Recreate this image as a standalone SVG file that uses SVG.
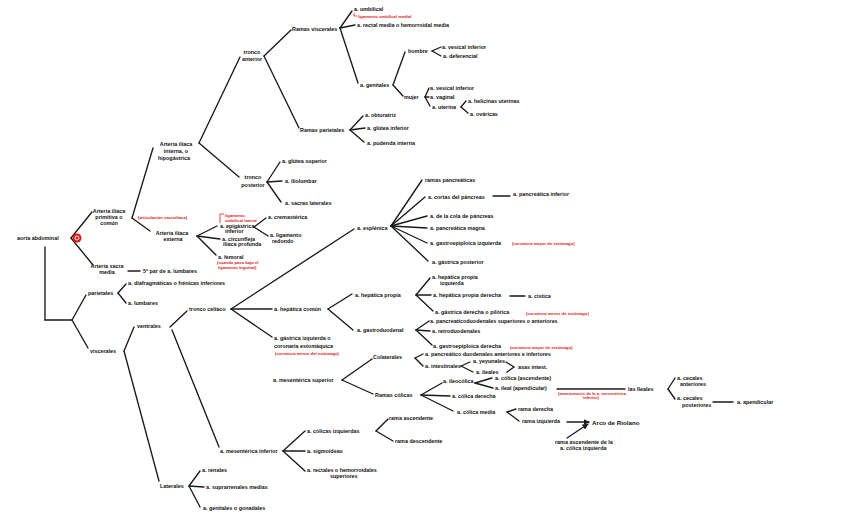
<svg xmlns="http://www.w3.org/2000/svg" width="848" height="530" viewBox="0 0 848 530">
<defs>
<style>
text{font-family:"Liberation Sans",Arial,sans-serif;font-size:5.4px;font-weight:bold;fill:#111;dominant-baseline:central}
text.m{text-anchor:middle}
text.r{fill:#e01818;font-size:4.2px}
text.big{font-size:6.2px}
.c line,.c polyline,.c path{stroke:#1a1a1a;stroke-width:1.35;stroke-linecap:round;fill:none}
.rb{stroke:#e01818;stroke-width:0.8;fill:none}
</style>
<marker id="ah" viewBox="0 0 10 10" refX="9" refY="5" markerWidth="4.5" markerHeight="4.5" orient="auto">
<path d="M0,0 L10,5 L0,10 z" fill="#1a1a1a"/>
</marker>
</defs>
<rect width="848" height="530" fill="#fff"/>

<g class="c" id="connectors">
<line x1="71" y1="238" x2="92" y2="212"/>
<line x1="71" y1="238" x2="93" y2="265"/>
<line x1="45" y1="247" x2="45" y2="320"/>
<line x1="45" y1="320" x2="72" y2="320"/>
<line x1="72" y1="320" x2="86" y2="295"/>
<line x1="72" y1="320" x2="88" y2="348"/>
<line x1="132" y1="218" x2="153" y2="148"/>
<line x1="132" y1="218" x2="150" y2="231"/>
<line x1="128" y1="271" x2="140" y2="271"/>
<line x1="199" y1="143" x2="240" y2="57"/>
<line x1="199" y1="143" x2="239" y2="177"/>
<line x1="267" y1="182" x2="280" y2="162"/>
<line x1="267" y1="182" x2="282" y2="181"/>
<line x1="267" y1="182" x2="281" y2="202"/>
<line x1="264" y1="56" x2="291" y2="30"/>
<line x1="264" y1="56" x2="299" y2="128"/>
<line x1="340" y1="28" x2="352" y2="11"/>
<line x1="340" y1="28" x2="355" y2="25"/>
<line x1="340" y1="28" x2="358" y2="83"/>
<line x1="393" y1="85" x2="405" y2="52"/>
<line x1="393" y1="85" x2="403" y2="96"/>
<line x1="432" y1="51" x2="441" y2="47"/>
<line x1="432" y1="51" x2="441" y2="56"/>
<line x1="425" y1="97" x2="429" y2="88"/>
<line x1="425" y1="97" x2="429" y2="97"/>
<line x1="425" y1="97" x2="430" y2="106"/>
<line x1="461" y1="107" x2="466" y2="101"/>
<line x1="461" y1="107" x2="468" y2="113"/>
<line x1="350" y1="130" x2="363" y2="116"/>
<line x1="350" y1="130" x2="365" y2="128"/>
<line x1="350" y1="130" x2="364" y2="142"/>
<line x1="197" y1="236" x2="217" y2="226"/>
<line x1="197" y1="236" x2="220" y2="239"/>
<line x1="197" y1="236" x2="216" y2="255"/>
<line x1="254" y1="227" x2="266" y2="218"/>
<line x1="254" y1="227" x2="268" y2="236"/>
<line x1="118" y1="293" x2="126" y2="284"/>
<line x1="118" y1="293" x2="126" y2="303"/>
<line x1="124" y1="351" x2="134" y2="327"/>
<line x1="124" y1="351" x2="159" y2="481"/>
<line x1="170" y1="327" x2="187" y2="311"/>
<line x1="172" y1="330" x2="219" y2="447"/>
<line x1="189" y1="486" x2="200" y2="471"/>
<line x1="189" y1="486" x2="204" y2="487"/>
<line x1="189" y1="486" x2="200" y2="507"/>
<line x1="231" y1="309" x2="354" y2="229"/>
<line x1="231" y1="309" x2="272" y2="309"/>
<line x1="231" y1="309" x2="272" y2="337"/>
<line x1="391" y1="226" x2="422" y2="180"/>
<line x1="391" y1="226" x2="425" y2="197"/>
<line x1="391" y1="226" x2="427" y2="216"/>
<line x1="391" y1="226" x2="427" y2="228"/>
<line x1="391" y1="226" x2="427" y2="243"/>
<line x1="391" y1="226" x2="428" y2="261"/>
<line x1="493" y1="196" x2="510" y2="196"/>
<line x1="328" y1="309" x2="352" y2="294"/>
<line x1="328" y1="309" x2="353" y2="330"/>
<line x1="416" y1="295" x2="430" y2="278"/>
<line x1="416" y1="295" x2="431" y2="295"/>
<line x1="416" y1="295" x2="433" y2="311"/>
<line x1="510" y1="296" x2="525" y2="296"/>
<line x1="416" y1="330" x2="429" y2="321"/>
<line x1="416" y1="330" x2="430" y2="331"/>
<line x1="416" y1="330" x2="432" y2="345"/>
<line x1="342" y1="380" x2="372" y2="359"/>
<line x1="342" y1="380" x2="373" y2="394"/>
<line x1="415" y1="358" x2="423" y2="354"/>
<line x1="415" y1="358" x2="423" y2="366"/>
<line x1="461" y1="366" x2="470" y2="362"/>
<line x1="461" y1="366" x2="473" y2="372"/>
<polyline points="506,362 514,367 507,372"/>
<line x1="421" y1="395" x2="442" y2="383"/>
<line x1="421" y1="395" x2="450" y2="396"/>
<line x1="421" y1="395" x2="453" y2="411"/>
<line x1="475" y1="383" x2="492" y2="378"/>
<line x1="475" y1="383" x2="493" y2="388"/>
<line x1="557" y1="389" x2="625" y2="389"/>
<line x1="668" y1="389" x2="675" y2="378"/>
<line x1="668" y1="389" x2="675" y2="399"/>
<line x1="713" y1="402" x2="733" y2="402"/>
<line x1="507" y1="412" x2="516" y2="409"/>
<line x1="507" y1="412" x2="519" y2="421"/>
<line x1="567" y1="422" x2="589" y2="422" marker-end="url(#ah)"/>
<line x1="567" y1="438" x2="588" y2="424" marker-end="url(#ah)"/>
<line x1="283" y1="451" x2="305" y2="431"/>
<line x1="283" y1="451" x2="305" y2="451"/>
<line x1="283" y1="451" x2="305" y2="471"/>
<line x1="376" y1="431" x2="388" y2="419"/>
<line x1="376" y1="431" x2="393" y2="441"/>
</g>

<g id="n_aorta"><text x="17" y="238">aorta abdominal</text>
<circle cx="77" cy="238" r="4.5" fill="#e01818"/><circle cx="77" cy="238" r="2" fill="none" stroke="#fff" stroke-width="0.9"/></g>
<g id="n_primitiva"><text class="m" x="109" y="211">Arteria ilíaca</text><text class="m" x="109" y="217">primitiva o</text><text class="m" x="109" y="223">común</text></g>
<g id="n_sacra"><text class="m" x="107" y="266">Arteria sacra</text><text class="m" x="107" y="272">media</text></g>
<g id="n_lumbar5"><text x="143" y="271">5º par de a. lumbares</text></g>
<g id="n_sacroiliaca"><text class="r" x="138" y="217">(articulación sacroilíaca)</text></g>
<g id="n_interna"><text class="m" x="176" y="144">Arteria ilíaca</text><text class="m" x="176" y="151">interna, o</text><text class="m" x="174" y="158">hipogástrica</text></g>
<g id="n_externa"><text class="m" x="172" y="233">Arteria ilíaca</text><text class="m" x="173" y="239">externa</text></g>
<g id="n_tronco_ant"><text class="m" x="252" y="52">tronco</text><text class="m" x="252" y="59">anterior</text></g>
<g id="n_tronco_post"><text class="m" x="253" y="177">tronco</text><text class="m" x="253" y="185">posterior</text></g>
<g id="n_glutsup"><text x="282" y="161">a. glútea superior</text></g>
<g id="n_iliolumbar"><text x="285" y="181">a. iliolumbar</text></g>
<g id="n_sacraslat"><text x="285" y="203">a. sacras laterales</text></g>
<g id="n_ramvisc"><text x="292" y="29">Ramas viscerales</text></g>
<g id="n_ramparie"><text x="300" y="130">Ramas parietales</text></g>
<g id="n_umbilical"><text x="354" y="9">a. umbilical</text><path class="rb" d="M354,13 L354,16 L357,16"/><text class="r" x="358" y="16">ligamento umbilical medial</text></g>
<g id="n_rectalmedia"><text x="357" y="25">a. rectal media o hemorroidal media</text></g>
<g id="n_genitales"><text x="360" y="85">a. genitales</text></g>
<g id="n_hombre"><text x="408" y="51">hombre</text></g>
<g id="n_vesinf"><text x="442" y="47">a. vesical inferior</text></g>
<g id="n_deferencial"><text x="443" y="56">a. deferencial</text></g>
<g id="n_mujer"><text x="404" y="97">mujer</text></g>
<g id="n_vesinf2"><text x="430" y="88">a. vesical inferior</text></g>
<g id="n_vaginal"><text x="430" y="97">a. vaginal</text></g>
<g id="n_uterina"><text x="432" y="107">a. uterina</text></g>
<g id="n_helicinas"><text x="468" y="101">a. helicinas uterinas</text></g>
<g id="n_ovaricas"><text x="470" y="114">a. ováricas</text></g>
<g id="n_obturatriz"><text x="365" y="115">a. obturatriz</text></g>
<g id="n_glutinf"><text x="367" y="128">a. glútea inferior</text></g>
<g id="n_pudenda"><text x="367" y="143">a. pudenda interna</text></g>
<g id="n_epigastrica"><path class="rb" d="M220,223 L220,214 L224,214"/><text class="r" x="225" y="215">ligamento</text><text class="r" x="225" y="220">umbilical lateral</text>
<text x="220" y="226">a. epigástrica</text><text x="225" y="231">inferior</text></g>
<g id="n_circunfleja"><text x="222" y="239">a. circunfleja</text><text x="223" y="244">ilíaca profunda</text></g>
<g id="n_femoral"><text x="218" y="257">a. femoral</text><text class="r" x="217" y="262">(cuando pasa bajo el</text><text class="r" x="218" y="267">ligamento inguinal)</text></g>
<g id="n_cremasterica"><text x="268" y="217">a. cremastérica</text></g>
<g id="n_ligredondo"><text x="270" y="235">a. ligamento</text><text x="272" y="241">redondo</text></g>

<g id="n_parietales"><text x="88" y="293">parietales</text></g>
<g id="n_diafrag"><text x="128" y="283">a. diafragmáticas o frénicas inferiores</text></g>
<g id="n_lumbares"><text x="128" y="303">a. lumbares</text></g>
<g id="n_viscerales"><text x="90" y="351">viscerales</text></g>
<g id="n_ventrales"><text x="137" y="326">ventrales</text></g>
<g id="n_laterales"><text x="160" y="486">Laterales</text></g>
<g id="n_renales"><text x="202" y="470">a. renales</text></g>
<g id="n_suprarrenales"><text x="206" y="487">a. suprarrenales medias</text></g>
<g id="n_gonadales"><text x="203" y="508">a. genitales o gonadales</text></g>
<g id="n_celiaco"><text x="189" y="309">tronco celíaco</text></g>
<g id="n_esplenica"><text x="357" y="228">a. esplénica</text></g>
<g id="n_rampanc"><text x="425" y="180">ramas pancreáticas</text></g>
<g id="n_cortas"><text x="428" y="197">a. cortas del páncreas</text></g>
<g id="n_pancinf"><text x="513" y="194">a. pancreática inferior</text></g>
<g id="n_cola"><text x="430" y="216">a. de la cola de páncreas</text></g>
<g id="n_magna"><text x="430" y="228">a. pancreática magna</text></g>
<g id="n_gastroepiizq"><text x="430" y="243">a. gastroepiploica izquierda</text><text class="r" x="512" y="243">(curvatura mayor de estómago)</text></g>
<g id="n_gastpost"><text x="432" y="262">a. gástrica posterior</text></g>
<g id="n_hepcomun"><text x="274" y="309">a. hepática común</text></g>
<g id="n_gastizq"><text x="274" y="338">a. gástrica izquierda o</text><text x="274" y="346">coronaria estomáquica</text><text class="r" x="275" y="353">(curvatura menor del estómago)</text></g>
<g id="n_hepprop"><text x="355" y="295">a. hepática propia</text></g>
<g id="n_hepizq"><text x="432" y="277">a. hepática propia</text><text x="440" y="283">izquierda</text></g>
<g id="n_hepder"><text x="433" y="295">a. hepática propia derecha</text></g>
<g id="n_cistica"><text x="528" y="296">a. cística</text></g>
<g id="n_gastder"><text x="435" y="312">a. gástrica derecha o pilórica</text><text class="r" x="526" y="313">(curvatura menor de estómago)</text></g>
<g id="n_gastroduod"><text x="357" y="330">a. gastroduodenal</text></g>
<g id="n_pancduod"><text x="430" y="321">a. pancreaticoduodenales superiores o anteriores</text></g>
<g id="n_retroduod"><text x="432" y="331">a. retroduodenales</text></g>
<g id="n_gastroepider"><text x="433" y="346">a. gastroepiploica derecha</text><text class="r" x="510" y="347">(curvatura mayor de estómago)</text></g>
<g id="n_messup"><text x="273" y="380">a. mesentérica superior</text></g>
<g id="n_colaterales"><text x="373" y="357">Colaterales</text></g>
<g id="n_pancduodinf"><text x="425" y="354">a. pancreático duodenales anteriores e inferiores</text></g>
<g id="n_intestinales"><text x="425" y="366">a. intestinales</text></g>
<g id="n_yeyunales"><text x="473" y="361">a. yeyunales</text></g>
<g id="n_ileales"><text x="476" y="372">a. ileales</text></g>
<g id="n_asas"><text x="518" y="367">asas intest.</text></g>
<g id="n_ramcolicas"><text x="375" y="395">Ramas cólicas</text></g>
<g id="n_ileocolica"><text x="443" y="381">a. ileocólica</text></g>
<g id="n_colasc"><text x="495" y="378">a. cólica (ascendente)</text></g>
<g id="n_ilealap"><text x="495" y="388">a. ileal (apendicular)</text></g>
<g id="n_anast"><text class="r" x="558" y="393">(anastomosis de la a. mesentérica</text><text class="r" x="583" y="397">inferior)</text></g>
<g id="n_ileales2"><text x="628" y="389">las Ileales</text></g>
<g id="n_cecant"><text x="677" y="378">a. cecales</text><text x="680" y="384">anteriores</text></g>
<g id="n_cecpost"><text x="677" y="398">a. cecales</text><text x="682" y="405">posteriores</text></g>
<g id="n_apendicular"><text x="737" y="402">a. apendicular</text></g>
<g id="n_colder"><text x="452" y="396">a. cólica derecha</text></g>
<g id="n_colmedia"><text x="457" y="412">a. cólica media</text></g>
<g id="n_ramder"><text x="518" y="409">rama derecha</text></g>
<g id="n_ramizq"><text x="522" y="421">rama izquierda</text></g>
<g id="n_riolano"><text class="big" x="592" y="422">Arco de Riolano</text></g>
<g id="n_ramascizq"><text x="555" y="442">rama ascendente de la</text><text x="560" y="448">a. cólica izquierda</text></g>
<g id="n_mesinf"><text x="220" y="451">a. mesentérica inferior</text></g>
<g id="n_colizq"><text x="307" y="431">a. cólicas izquierdas</text></g>
<g id="n_ramaasc"><text x="389" y="418">rama ascendente</text></g>
<g id="n_ramadesc"><text x="395" y="441">rama descendente</text></g>
<g id="n_sigmoideas"><text x="307" y="451">a. sigmoideas</text></g>
<g id="n_rectsup"><text x="307" y="470">a. rectales o hemorroidales</text><text x="330" y="476">superiores</text></g>
</svg>
